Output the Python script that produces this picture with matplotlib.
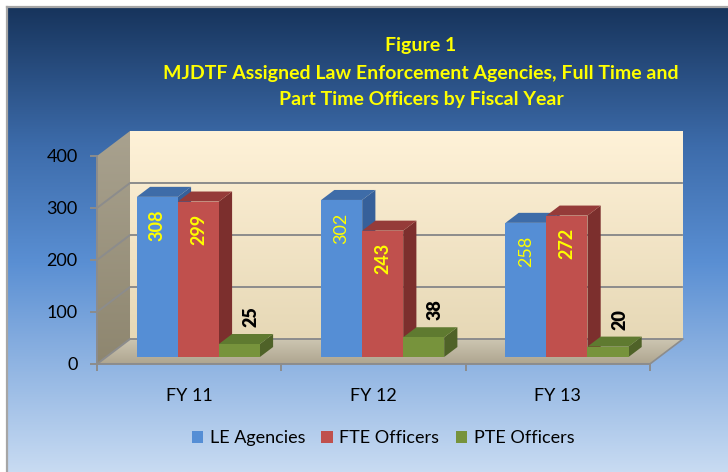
import numpy as np
import matplotlib
matplotlib.use('Agg')
import matplotlib.pyplot as plt
from matplotlib.patches import Polygon
from matplotlib.colors import LinearSegmentedColormap

# ---------------- data ----------------
categories = ['FY 11', 'FY 12', 'FY 13']
series_names = ['LE Agencies', 'FTE Officers', 'PTE Officers']
le_agencies = [308, 302, 258]
fte_officers = [299, 243, 272]
pte_officers = [25, 38, 20]
y_ticks = [0, 100, 200, 300, 400]
title_lines = ['Figure 1',
               'MJDTF Assigned Law Enforcement Agencies, Full Time and',
               'Part Time Officers by Fiscal Year']

# ---------------- style ----------------
front_colors = ['#558ed5', '#c0504d', '#77933c']
top_colors = ['#3e6ca8', '#953b39', '#5f7a30']
side_colors = ['#36609a', '#7c2f2d', '#4f6228']
label_colors = ['#ffff00', '#ffff00', '#000000']
label_weights = [['bold', 'normal', 'normal'], ['bold'] * 3, ['heavy'] * 3]

plt.rcParams['font.family'] = ['Lato', 'DejaVu Sans']

W, H = 728, 472
fig = plt.figure(figsize=(W / 100, H / 100), dpi=100)
fig.patch.set_facecolor('white')

# background gradient panel
bg = fig.add_axes([0, 0, 1, 1])
cmap_bg = LinearSegmentedColormap.from_list(
    'bg', [(0, '#17345c'), (0.3, '#3d6cab'), (0.55, '#5a8fd3'), (1, '#c8dbf2')])
grad = np.linspace(0, 1, 256).reshape(-1, 1)
bg.imshow(grad, cmap=cmap_bg, extent=[7, W, H, 7], aspect='auto')
bg.plot([7, 7], [7, H], color='#a6a6a6', lw=1.6)
bg.plot([7, W], [7, 7], color='#a6a6a6', lw=1.6)
bg.set_xlim(0, W)
bg.set_ylim(H, 0)
bg.axis('off')

# main axes: front plane pixel mapping
px_cat = 184.3
px_unit = 0.52
xmax, ymax = 3.2, 450
ax = fig.add_axes([97 / W, (H - 364) / H, px_cat * xmax / W, px_unit * ymax / H])
ax.set_facecolor('none')
DX = 33 / px_cat
DY = 25 / px_unit
ncat = len(categories)

def vgrad(c_top, c_bot):
    return LinearSegmentedColormap.from_list('g', [c_top, c_bot])

def grad_poly(pts, c_top, c_bot, z):
    poly = Polygon(pts, closed=True, facecolor='none', edgecolor='none', zorder=z)
    ax.add_patch(poly)
    xs_ = [p[0] for p in pts]
    ys_ = [p[1] for p in pts]
    im = ax.imshow(grad, cmap=vgrad(c_top, c_bot),
                   extent=[min(xs_), max(xs_), min(ys_), max(ys_)],
                   aspect='auto', zorder=z, origin='upper')
    im.set_clip_path(poly)

# walls and floor
grad_poly([(DX, DY), (ncat + DX, DY), (ncat + DX, 400 + DY), (DX, 400 + DY)],
          '#fff2d8', '#e6d8b6', 1)
grad_poly([(0, 0), (0, 400), (DX, 400 + DY), (DX, DY)], '#a9a28f', '#8e866f', 1)
grad_poly([(0, 0), (ncat, 0), (ncat + DX, DY), (DX, DY)], '#cdc6b2', '#aea58f', 1)

# gridlines
for v in y_ticks[:-1]:
    ax.plot([0, DX, ncat + DX], [v, v + DY, v + DY], color='#8c8c8c', lw=1.4,
            zorder=2, solid_capstyle='butt')
ax.plot([ncat, ncat + DX], [0, DY], color='#8c8c8c', lw=1.2, zorder=2)

# bars
series = [le_agencies, fte_officers, pte_officers]
bw = 0.2225
gap = (1 - bw * len(series)) / 2
f = 0.28
d = 0.4
base = f * DY
xs = np.arange(ncat)
for j, vals in enumerate(series):
    lefts = xs + gap + j * bw + f * DX
    ax.bar(lefts, vals, width=bw, bottom=base, align='edge',
           color=front_colors[j], zorder=5 + j * 0.1, label=series_names[j])
    for i, v in enumerate(vals):
        x0 = lefts[i]
        top = base + v
        side = [(x0 + bw, base), (x0 + bw, top), (x0 + bw + d * DX, top + d * DY),
                (x0 + bw + d * DX, base + d * DY)]
        topf = [(x0, top), (x0 + bw, top), (x0 + bw + d * DX, top + d * DY),
                (x0 + d * DX, top + d * DY)]
        ax.add_patch(Polygon(side, closed=True, facecolor=side_colors[j],
                             edgecolor='none', zorder=4.9 + j * 0.1))
        ax.add_patch(Polygon(topf, closed=True, facecolor=top_colors[j],
                             edgecolor='none', zorder=4.9 + j * 0.1))
        xc = x0 + bw / 2
        if j < 2:
            ax.annotate(str(v), (xc, top), xytext=(0, -9), textcoords='offset points',
                        rotation=90, ha='center', va='top', color=label_colors[j],
                        fontsize=13, fontweight=label_weights[j][i], zorder=10)
        else:
            ax.annotate(str(v), (xc + 0.35 * DX, top + d * DY), xytext=(0, 5),
                        textcoords='offset points', rotation=90, ha='center',
                        va='bottom', color=label_colors[j], fontsize=13,
                        fontweight=label_weights[j][i], zorder=10)

ax.set_xlim(0, xmax)
ax.set_ylim(0, ymax)

# axes styling
for s in ['top', 'right']:
    ax.spines[s].set_visible(False)
for s in ['left', 'bottom']:
    ax.spines[s].set_color('#8c8c8c')
    ax.spines[s].set_linewidth(1.4)
    ax.spines[s].set_zorder(3)
ax.spines['left'].set_bounds(0, 400)
ax.spines['bottom'].set_bounds(0, ncat)
ax.set_yticks(y_ticks)
ax.set_yticklabels([str(t) for t in y_ticks])
ax.tick_params(axis='y', length=5, width=1.4, color='#8c8c8c', pad=9,
               labelsize=13, labelcolor='black')
ax.set_xticks(np.arange(ncat + 1))
ax.set_xticklabels([''] * (ncat + 1))
ax.set_xticks(xs + 0.5, minor=True)
ax.set_xticklabels(categories, minor=True)
ax.tick_params(axis='x', which='major', length=5, width=1.4, color='#8c8c8c')
ax.tick_params(axis='x', which='minor', length=0, pad=17, labelsize=13,
               labelcolor='black')

# title
for line, yp in zip(title_lines, [46, 73, 100]):
    fig.text(421 / W, 1 - yp / H, line, ha='center', va='center',
             color='#ffff00', fontsize=14, fontweight='bold')

# legend
handles, labels = ax.get_legend_handles_labels()
fig.legend(handles, labels, loc='center', bbox_to_anchor=(383 / W, 1 - 438 / H),
           ncol=3, frameon=False, fontsize=13, handlelength=0.65, handleheight=0.65,
           handletextpad=0.35, columnspacing=0.9)

fig.savefig('out.png', dpi=100, facecolor=fig.get_facecolor())
